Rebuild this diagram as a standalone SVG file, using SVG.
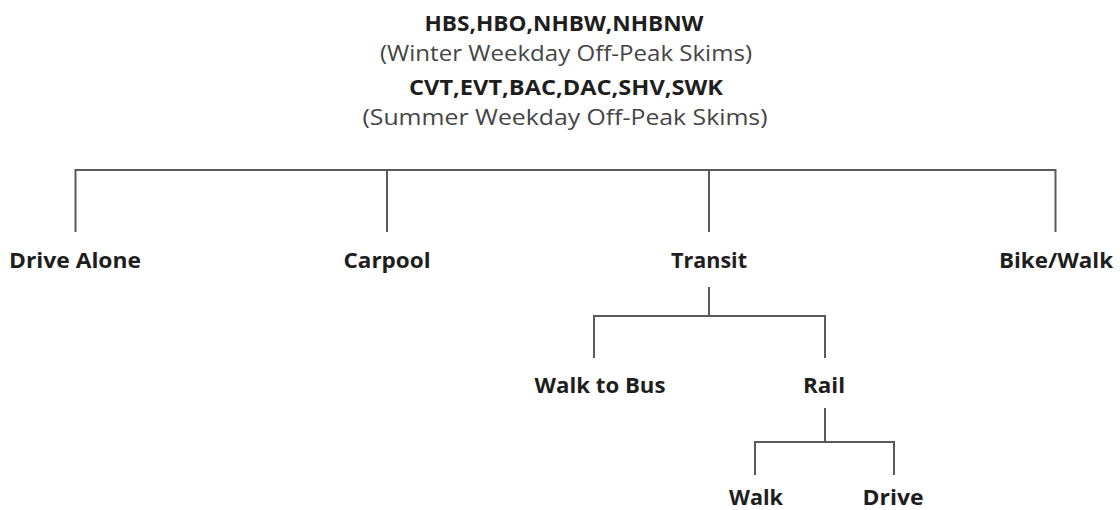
<svg xmlns="http://www.w3.org/2000/svg" width="1120" height="510" viewBox="0 0 1120 510">
<style>
.b{font-family:"Open Sans","Liberation Sans",sans-serif;font-weight:700;font-size:22px;fill:#1e1e1e;text-anchor:middle}
.r{font-family:"Open Sans","Liberation Sans",sans-serif;font-weight:400;font-size:22px;fill:#454545;text-anchor:middle}
.c{stroke:#5a5a5a;stroke-width:2;fill:none}
</style>
<rect width="1120" height="510" fill="#ffffff"/>
<g id="root">
<text class="b" x="564" y="31" textLength="279" lengthAdjust="spacingAndGlyphs">HBS,HBO,NHBW,NHBNW</text>
<text class="r" x="566" y="61" textLength="372" lengthAdjust="spacingAndGlyphs">(Winter Weekday Off-Peak Skims)</text>
<text class="b" x="566" y="95" textLength="314" lengthAdjust="spacingAndGlyphs">CVT,EVT,BAC,DAC,SHV,SWK</text>
<text class="r" x="565" y="125" textLength="405" lengthAdjust="spacingAndGlyphs">(Summer Weekday Off-Peak Skims)</text>
</g>
<g id="connectors">
<path class="c" d="M75.5,232 V170 H1055.5 V232"/>
<path class="c" d="M387,170 V232"/>
<path class="c" d="M709,170 V232"/>
<path class="c" d="M709,287 V316"/>
<path class="c" d="M594,358 V316 H825 V358"/>
<path class="c" d="M825,408 V442"/>
<path class="c" d="M755,475 V442 H894 V475"/>
</g>
<g id="drive-alone"><text class="b" x="75" y="268" textLength="132" lengthAdjust="spacingAndGlyphs">Drive Alone</text></g>
<g id="carpool"><text class="b" x="387" y="268" textLength="87" lengthAdjust="spacingAndGlyphs">Carpool</text></g>
<g id="transit"><text class="b" x="709" y="268" textLength="76" lengthAdjust="spacingAndGlyphs">Transit</text></g>
<g id="bike-walk"><text class="b" x="1056" y="268" textLength="114" lengthAdjust="spacingAndGlyphs">Bike/Walk</text></g>
<g id="walk-to-bus"><text class="b" x="600" y="393" textLength="131" lengthAdjust="spacingAndGlyphs">Walk to Bus</text></g>
<g id="rail"><text class="b" x="824" y="393" textLength="42" lengthAdjust="spacingAndGlyphs">Rail</text></g>
<g id="walk"><text class="b" x="756" y="505" textLength="54" lengthAdjust="spacingAndGlyphs">Walk</text></g>
<g id="drive"><text class="b" x="893" y="505" textLength="61" lengthAdjust="spacingAndGlyphs">Drive</text></g>
</svg>
